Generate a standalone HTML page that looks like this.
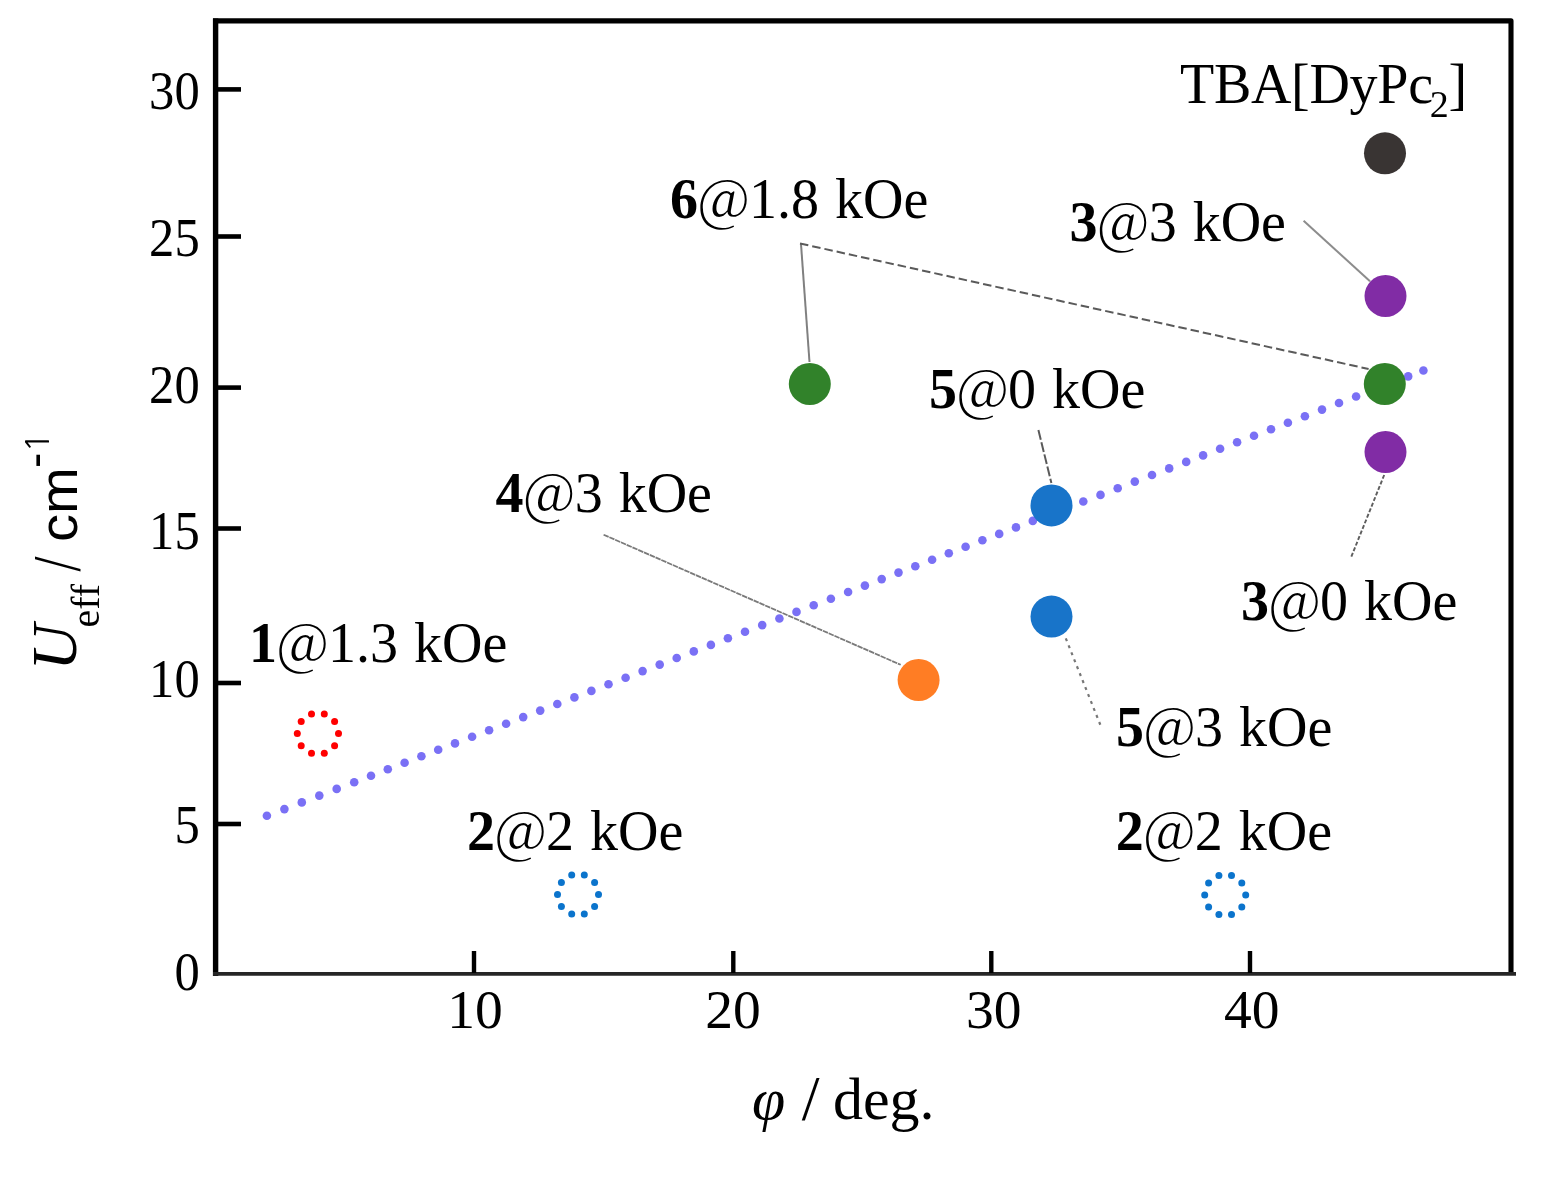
<!DOCTYPE html>
<html><head><meta charset="utf-8"><style>
html,body{margin:0;padding:0;background:#fff;width:1560px;height:1180px;overflow:hidden}
svg{display:block}
</style></head><body><svg width="1560" height="1180" viewBox="0 0 1560 1180"><line x1="215.6" y1="18.5" x2="215.6" y2="976" stroke="#000" stroke-width="5.4"/><polyline points="213,20.9 1511,20.9 1511,972" fill="none" stroke="#000" stroke-width="5.1" stroke-linejoin="round"/><line x1="213" y1="973.8" x2="1516" y2="973.8" stroke="#262626" stroke-width="3.8"/><line x1="218" y1="89.4" x2="241" y2="89.4" stroke="#000" stroke-width="4.6"/><line x1="218" y1="236.5" x2="241" y2="236.5" stroke="#000" stroke-width="4.6"/><line x1="218" y1="387.6" x2="241" y2="387.6" stroke="#000" stroke-width="4.6"/><line x1="218" y1="528.5" x2="241" y2="528.5" stroke="#000" stroke-width="4.6"/><line x1="218" y1="683" x2="241" y2="683" stroke="#000" stroke-width="4.6"/><line x1="218" y1="824" x2="241" y2="824" stroke="#000" stroke-width="4.6"/><line x1="474" y1="951" x2="474" y2="973" stroke="#000" stroke-width="4.4"/><line x1="733.3" y1="951" x2="733.3" y2="973" stroke="#000" stroke-width="4.4"/><line x1="991.3" y1="951" x2="991.3" y2="973" stroke="#000" stroke-width="4.4"/><line x1="1250" y1="951" x2="1250" y2="973" stroke="#000" stroke-width="4.4"/><text transform="translate(199.7,108.8) scale(0.92,1)" text-anchor="end" style='font-family:"Liberation Serif",serif;font-size:55px'>30</text><text transform="translate(199.7,255.9) scale(0.92,1)" text-anchor="end" style='font-family:"Liberation Serif",serif;font-size:55px'>25</text><text transform="translate(199.7,403.4) scale(0.92,1)" text-anchor="end" style='font-family:"Liberation Serif",serif;font-size:55px'>20</text><text transform="translate(199.7,549.0) scale(0.92,1)" text-anchor="end" style='font-family:"Liberation Serif",serif;font-size:55px'>15</text><text transform="translate(199.7,696.8) scale(0.92,1)" text-anchor="end" style='font-family:"Liberation Serif",serif;font-size:55px'>10</text><text transform="translate(199.7,843.1) scale(0.92,1)" text-anchor="end" style='font-family:"Liberation Serif",serif;font-size:55px'>5</text><text transform="translate(199.7,990.4) scale(0.92,1)" text-anchor="end" style='font-family:"Liberation Serif",serif;font-size:55px'>0</text><text x="474.9" y="1027.6" text-anchor="middle" style='font-family:"Liberation Serif",serif;font-size:55.5px'>10</text><text x="733.1" y="1027.6" text-anchor="middle" style='font-family:"Liberation Serif",serif;font-size:55.5px'>20</text><text x="993.8" y="1027.6" text-anchor="middle" style='font-family:"Liberation Serif",serif;font-size:55.5px'>30</text><text x="1251.7" y="1027.6" text-anchor="middle" style='font-family:"Liberation Serif",serif;font-size:55.5px'>40</text><text x="752" y="1119" style='font-family:"Liberation Serif",serif;font-size:60px'><tspan font-style="italic">φ</tspan> <tspan font-size="64px" dy="1" dx="1.5">/</tspan><tspan dy="-1" dx="-1.5"> deg.</tspan></text><text transform="translate(76,670.5) rotate(-90)" text-anchor="start" style='font-family:"Liberation Serif",serif;font-size:64px;font-style:italic'>U</text><text transform="translate(98.5,627.5) rotate(-90)" text-anchor="start" style='font-family:"Liberation Serif",serif;font-size:40px'>eff</text><text transform="translate(78.5,571.5) rotate(-90) scale(0.8,1)" text-anchor="start" style='font-family:"Liberation Serif",serif;font-size:67px'>/</text><text transform="translate(77,542) rotate(-90) scale(1.08,1)" text-anchor="start" style='font-family:"Liberation Sans",sans-serif;font-size:52px'>cm</text><text transform="translate(51,468) rotate(-90)" text-anchor="start" style='font-family:"Liberation Sans",sans-serif;font-size:46px'>-</text><text transform="translate(48.5,452.5) rotate(-90)" text-anchor="start" style='font-family:"NanumGothic",sans-serif;font-size:33px'>1</text><g fill="#7a70f5"><circle cx="266.9" cy="815.8" r="4.3"/><circle cx="284.4" cy="809.1" r="4.3"/><circle cx="301.8" cy="802.4" r="4.3"/><circle cx="319.3" cy="795.6" r="4.3"/><circle cx="336.7" cy="788.9" r="4.3"/><circle cx="354.2" cy="782.2" r="4.3"/><circle cx="371.0" cy="775.7" r="4.3"/><circle cx="387.8" cy="769.3" r="4.3"/><circle cx="404.6" cy="762.8" r="4.3"/><circle cx="421.4" cy="756.3" r="4.3"/><circle cx="438.2" cy="749.8" r="4.3"/><circle cx="455.0" cy="743.4" r="4.3"/><circle cx="472.1" cy="736.8" r="4.3"/><circle cx="489.1" cy="730.3" r="4.3"/><circle cx="506.1" cy="723.7" r="4.3"/><circle cx="523.2" cy="717.1" r="4.3"/><circle cx="540.2" cy="710.6" r="4.3"/><circle cx="557.3" cy="704.0" r="4.3"/><circle cx="574.4" cy="697.4" r="4.3"/><circle cx="591.4" cy="690.9" r="4.3"/><circle cx="608.5" cy="684.3" r="4.3"/><circle cx="625.6" cy="677.7" r="4.3"/><circle cx="642.6" cy="671.1" r="4.3"/><circle cx="659.7" cy="664.6" r="4.3"/><circle cx="676.7" cy="658.0" r="4.3"/><circle cx="693.8" cy="651.4" r="4.3"/><circle cx="710.9" cy="644.9" r="4.3"/><circle cx="727.9" cy="638.3" r="4.3"/><circle cx="745.0" cy="631.7" r="4.3"/><circle cx="762.2" cy="625.1" r="4.3"/><circle cx="779.4" cy="618.5" r="4.3"/><circle cx="796.5" cy="611.9" r="4.3"/><circle cx="813.7" cy="605.3" r="4.3"/><circle cx="830.9" cy="598.7" r="4.3"/><circle cx="848.1" cy="592.0" r="4.3"/><circle cx="864.9" cy="585.6" r="4.3"/><circle cx="881.7" cy="579.1" r="4.3"/><circle cx="898.5" cy="572.6" r="4.3"/><circle cx="915.3" cy="566.2" r="4.3"/><circle cx="932.1" cy="559.7" r="4.3"/><circle cx="948.8" cy="553.3" r="4.3"/><circle cx="965.6" cy="546.8" r="4.3"/><circle cx="982.4" cy="540.3" r="4.3"/><circle cx="999.2" cy="533.9" r="4.3"/><circle cx="1016.0" cy="527.4" r="4.3"/><circle cx="1032.8" cy="520.9" r="4.3"/><circle cx="1049.6" cy="514.4" r="4.3"/><circle cx="1066.5" cy="508.0" r="4.3"/><circle cx="1083.3" cy="501.5" r="4.3"/><circle cx="1100.5" cy="494.9" r="4.3"/><circle cx="1117.7" cy="488.3" r="4.3"/><circle cx="1134.8" cy="481.6" r="4.3"/><circle cx="1152.0" cy="475.0" r="4.3"/><circle cx="1169.2" cy="468.4" r="4.3"/><circle cx="1186.2" cy="461.9" r="4.3"/><circle cx="1203.1" cy="455.4" r="4.3"/><circle cx="1220.1" cy="448.8" r="4.3"/><circle cx="1237.1" cy="442.3" r="4.3"/><circle cx="1254.0" cy="435.8" r="4.3"/><circle cx="1271.0" cy="429.2" r="4.3"/><circle cx="1287.9" cy="422.7" r="4.3"/><circle cx="1304.9" cy="416.2" r="4.3"/><circle cx="1322.0" cy="409.6" r="4.3"/><circle cx="1339.0" cy="403.0" r="4.3"/><circle cx="1356.1" cy="396.5" r="4.3"/><circle cx="1373.5" cy="389.8" r="4.3"/><circle cx="1390.8" cy="383.1" r="4.3"/><circle cx="1408.2" cy="376.4" r="4.3"/><circle cx="1423.4" cy="370.5" r="4.3"/></g><line x1="809.5" y1="362" x2="801" y2="244" stroke="#808080" stroke-width="2"/><line x1="800" y1="243.5" x2="1368.6" y2="369" stroke="#5a5a5a" stroke-width="2" stroke-dasharray="8.5 4"/><line x1="1303.6" y1="220.8" x2="1370" y2="281.2" stroke="#8c8c8c" stroke-width="2"/><line x1="1384.2" y1="475" x2="1351" y2="557.5" stroke="#5e5e5e" stroke-width="1.9" stroke-dasharray="4 2"/><line x1="1038.4" y1="430.1" x2="1051.4" y2="483" stroke="#5a5a5a" stroke-width="2" stroke-dasharray="10 2.5"/><line x1="1065.8" y1="638.4" x2="1100.8" y2="726" stroke="#777" stroke-width="2.2" stroke-dasharray="3 4.5"/><line x1="603.6" y1="534.7" x2="900.7" y2="664.8" stroke="#7a7a7a" stroke-width="1.8" stroke-dasharray="5.5 0.8"/><circle cx="1385" cy="153.3" r="21" fill="#393433"/><circle cx="1385.5" cy="296" r="21" fill="#812ca5"/><circle cx="1384.8" cy="384" r="21" fill="#31822a"/><circle cx="1385.5" cy="452" r="21" fill="#812ca5"/><circle cx="809.8" cy="384" r="21" fill="#31822a"/><circle cx="1051.5" cy="505.4" r="21" fill="#1874c9"/><circle cx="1051.5" cy="616.6" r="21" fill="#1874c9"/><circle cx="918.6" cy="680" r="21" fill="#ff7d24"/><g fill="#ff0000"><circle cx="311.5" cy="714.0" r="3.5"/><circle cx="324.3" cy="714.0" r="3.5"/><circle cx="334.6" cy="721.5" r="3.5"/><circle cx="338.5" cy="733.6" r="3.5"/><circle cx="334.6" cy="745.7" r="3.5"/><circle cx="324.3" cy="753.2" r="3.5"/><circle cx="311.5" cy="753.2" r="3.5"/><circle cx="301.2" cy="745.7" r="3.5"/><circle cx="297.3" cy="733.6" r="3.5"/><circle cx="301.2" cy="721.5" r="3.5"/></g><g fill="#0b74cc"><circle cx="571.7" cy="875.0" r="3.5"/><circle cx="584.3" cy="875.0" r="3.5"/><circle cx="594.6" cy="882.5" r="3.5"/><circle cx="598.5" cy="894.5" r="3.5"/><circle cx="594.6" cy="906.5" r="3.5"/><circle cx="584.3" cy="914.0" r="3.5"/><circle cx="571.7" cy="914.0" r="3.5"/><circle cx="561.4" cy="906.5" r="3.5"/><circle cx="557.5" cy="894.5" r="3.5"/><circle cx="561.4" cy="882.5" r="3.5"/></g><g fill="#0b74cc"><circle cx="1218.9" cy="875.5" r="3.5"/><circle cx="1231.5" cy="875.5" r="3.5"/><circle cx="1241.8" cy="883.0" r="3.5"/><circle cx="1245.7" cy="895.0" r="3.5"/><circle cx="1241.8" cy="907.0" r="3.5"/><circle cx="1231.5" cy="914.5" r="3.5"/><circle cx="1218.9" cy="914.5" r="3.5"/><circle cx="1208.6" cy="907.0" r="3.5"/><circle cx="1204.7" cy="895.0" r="3.5"/><circle cx="1208.6" cy="883.0" r="3.5"/></g><text x="1180" y="102.6" style='font-family:"Liberation Serif",serif;font-size:56px;letter-spacing:-0.3px'>TBA[DyPc<tspan font-size="38px" dy="14" dx="-3">2</tspan><tspan dy="-14">]</tspan></text><text x="670" y="217.7" style='font-family:"Liberation Serif",serif;font-size:56px;word-spacing:2px'><tspan font-weight="bold">6</tspan><tspan dy="2" style="font-family:'Noto Serif CJK SC',serif">@</tspan><tspan dy="-2">1.8 kOe</tspan></text><text x="1069.6" y="240.8" style='font-family:"Liberation Serif",serif;font-size:56px;word-spacing:2px'><tspan font-weight="bold">3</tspan><tspan dy="2" style="font-family:'Noto Serif CJK SC',serif">@</tspan><tspan dy="-2">3 kOe</tspan></text><text x="929" y="407.6" style='font-family:"Liberation Serif",serif;font-size:56px;word-spacing:2px'><tspan font-weight="bold">5</tspan><tspan dy="2" style="font-family:'Noto Serif CJK SC',serif">@</tspan><tspan dy="-2">0 kOe</tspan></text><text x="495.6" y="512.2" style='font-family:"Liberation Serif",serif;font-size:56px;word-spacing:2px'><tspan font-weight="bold">4</tspan><tspan dy="2" style="font-family:'Noto Serif CJK SC',serif">@</tspan><tspan dy="-2">3 kOe</tspan></text><text x="1241" y="620" style='font-family:"Liberation Serif",serif;font-size:56px;word-spacing:2px'><tspan font-weight="bold">3</tspan><tspan dy="2" style="font-family:'Noto Serif CJK SC',serif">@</tspan><tspan dy="-2">0 kOe</tspan></text><text x="249" y="662" style='font-family:"Liberation Serif",serif;font-size:56px;word-spacing:2px'><tspan font-weight="bold">1</tspan><tspan dy="2" style="font-family:'Noto Serif CJK SC',serif">@</tspan><tspan dy="-2">1.3 kOe</tspan></text><text x="1116" y="746" style='font-family:"Liberation Serif",serif;font-size:56px;word-spacing:2px'><tspan font-weight="bold">5</tspan><tspan dy="2" style="font-family:'Noto Serif CJK SC',serif">@</tspan><tspan dy="-2">3 kOe</tspan></text><text x="467" y="850" style='font-family:"Liberation Serif",serif;font-size:56px;word-spacing:2px'><tspan font-weight="bold">2</tspan><tspan dy="2" style="font-family:'Noto Serif CJK SC',serif">@</tspan><tspan dy="-2">2 kOe</tspan></text><text x="1115.7" y="850" style='font-family:"Liberation Serif",serif;font-size:56px;word-spacing:2px'><tspan font-weight="bold">2</tspan><tspan dy="2" style="font-family:'Noto Serif CJK SC',serif">@</tspan><tspan dy="-2">2 kOe</tspan></text></svg></body></html>
